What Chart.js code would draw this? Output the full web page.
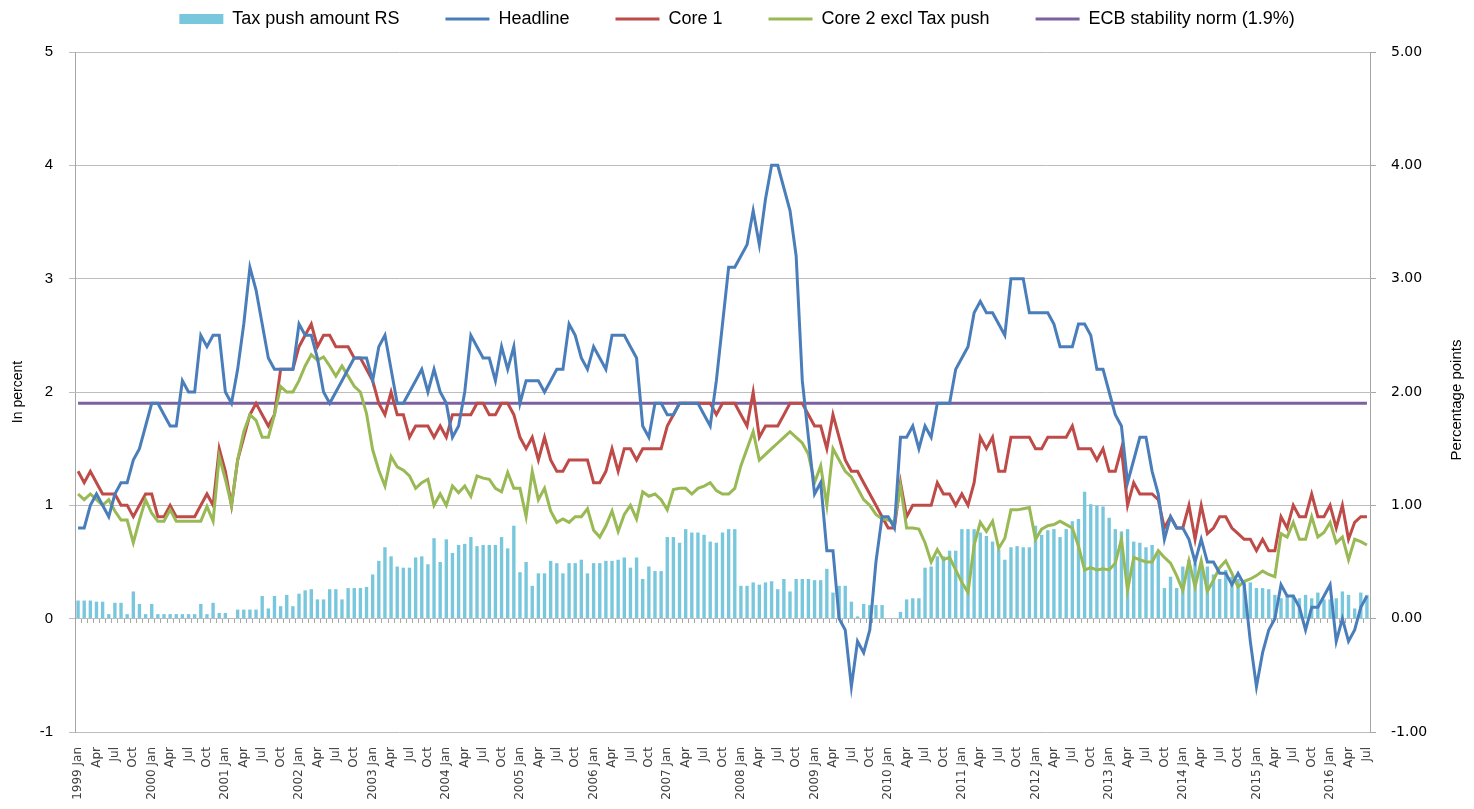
<!DOCTYPE html>
<html>
<head>
<meta charset="utf-8">
<script src="https://cdn.jsdelivr.net/npm/chart.js@4.4.1/dist/chart.umd.min.js"></script>
<style>
html,body{margin:0;padding:0;background:#ffffff;}
#wrap{width:1474px;height:809px;position:relative;}
canvas{display:block;}
</style>
</head>
<body>
<div id="wrap"><canvas id="chart" width="1474" height="809"></canvas></div>
<script>
// ---------- DATA ----------
const years = [1999,2000,2001,2002,2003,2004,2005,2006,2007,2008,2009,2010,2011,2012,2013,2014,2015,2016];
const monthNames = ['Jan','Feb','Mar','Apr','May','Jun','Jul','Aug','Sep','Oct','Nov','Dec'];
const lastMonthOf2016 = 7; // data ends July 2016

const categories = [];
years.forEach(y => {
  const n = (y === 2016) ? lastMonthOf2016 : 12;
  for (let m = 0; m < n; m++) categories.push(m === 0 ? y + ' ' + monthNames[m] : monthNames[m]);
});

const taxPush = [
  0.16,0.16,0.16,0.15,0.15,0.04,0.14,0.14,0.04,0.24,0.13,0.04,
  0.13,0.04,0.04,0.04,0.04,0.04,0.04,0.04,0.13,0.04,0.14,0.05,
  0.05,0.00,0.08,0.08,0.08,0.08,0.20,0.09,0.20,0.11,0.21,0.11,
  0.22,0.25,0.26,0.17,0.17,0.26,0.26,0.17,0.27,0.27,0.27,0.28,
  0.39,0.51,0.63,0.55,0.46,0.45,0.45,0.54,0.55,0.48,0.71,0.50,
  0.70,0.58,0.65,0.66,0.72,0.64,0.65,0.65,0.65,0.72,0.62,0.82,
  0.41,0.50,0.29,0.40,0.40,0.51,0.49,0.40,0.49,0.49,0.52,0.40,
  0.49,0.49,0.51,0.51,0.52,0.54,0.45,0.54,0.35,0.46,0.42,0.42,
  0.72,0.72,0.67,0.79,0.76,0.76,0.74,0.68,0.67,0.76,0.79,0.79,
  0.29,0.29,0.32,0.30,0.32,0.33,0.26,0.35,0.24,0.35,0.35,0.35,
  0.34,0.34,0.44,0.23,0.29,0.29,0.15,0.02,0.13,0.12,0.12,0.12,
  0.00,0.00,0.06,0.17,0.18,0.18,0.45,0.46,0.55,0.55,0.60,0.60,
  0.79,0.79,0.79,0.76,0.73,0.68,0.61,0.52,0.63,0.64,0.63,0.63,
  0.82,0.74,0.78,0.79,0.72,0.79,0.86,0.88,1.12,1.01,1.00,0.99,
  0.89,0.79,0.77,0.79,0.68,0.67,0.63,0.65,0.57,0.27,0.37,0.27,
  0.46,0.52,0.49,0.48,0.46,0.39,0.35,0.43,0.37,0.35,0.33,0.32,
  0.27,0.27,0.26,0.21,0.18,0.20,0.21,0.18,0.21,0.18,0.23,0.17,
  0.17,0.18,0.24,0.21,0.09,0.23,0.21
];

const headline = [
  0.8,0.8,1.0,1.1,1.0,0.9,1.1,1.2,1.2,1.4,1.5,1.7,
  1.9,1.9,1.8,1.7,1.7,2.1,2.0,2.0,2.5,2.4,2.5,2.5,
  2.0,1.9,2.2,2.6,3.1,2.9,2.6,2.3,2.2,2.2,2.2,2.2,
  2.6,2.5,2.5,2.3,2.0,1.9,2.0,2.1,2.2,2.3,2.3,2.3,
  2.1,2.4,2.5,2.2,1.9,1.9,2.0,2.1,2.2,2.0,2.2,2.0,
  1.9,1.6,1.7,2.0,2.5,2.4,2.3,2.3,2.1,2.4,2.2,2.4,
  1.9,2.1,2.1,2.1,2.0,2.1,2.2,2.2,2.6,2.5,2.3,2.2,
  2.4,2.3,2.2,2.5,2.5,2.5,2.4,2.3,1.7,1.6,1.9,1.9,
  1.8,1.8,1.9,1.9,1.9,1.9,1.8,1.7,2.1,2.6,3.1,3.1,
  3.2,3.3,3.6,3.3,3.7,4.0,4.0,3.8,3.6,3.2,2.1,1.6,
  1.1,1.2,0.6,0.6,0.0,-0.1,-0.6,-0.2,-0.3,-0.1,0.5,0.9,
  0.9,0.8,1.6,1.6,1.7,1.5,1.7,1.6,1.9,1.9,1.9,2.2,
  2.3,2.4,2.7,2.8,2.7,2.7,2.6,2.5,3.0,3.0,3.0,2.7,
  2.7,2.7,2.7,2.6,2.4,2.4,2.4,2.6,2.6,2.5,2.2,2.2,
  2.0,1.8,1.7,1.2,1.4,1.6,1.6,1.3,1.1,0.7,0.9,0.8,
  0.8,0.7,0.5,0.7,0.5,0.5,0.4,0.4,0.3,0.4,0.3,-0.2,
  -0.6,-0.3,-0.1,0.0,0.3,0.2,0.2,0.1,-0.1,0.1,0.1,0.2,
  0.3,-0.2,0.0,-0.2,-0.1,0.1,0.2
];

const core1 = [
  1.3,1.2,1.3,1.2,1.1,1.1,1.1,1.0,1.0,0.9,1.0,1.1,
  1.1,0.9,0.9,1.0,0.9,0.9,0.9,0.9,1.0,1.1,1.0,1.5,
  1.3,1.0,1.4,1.6,1.8,1.9,1.8,1.7,1.8,2.2,2.2,2.2,
  2.4,2.5,2.6,2.4,2.5,2.5,2.4,2.4,2.4,2.3,2.3,2.2,
  2.1,1.9,1.8,2.0,1.8,1.8,1.6,1.7,1.7,1.7,1.6,1.7,
  1.6,1.8,1.8,1.8,1.8,1.9,1.9,1.8,1.8,1.9,1.9,1.8,
  1.6,1.5,1.6,1.4,1.6,1.4,1.3,1.3,1.4,1.4,1.4,1.4,
  1.2,1.2,1.3,1.5,1.3,1.5,1.5,1.4,1.5,1.5,1.5,1.5,
  1.7,1.8,1.9,1.9,1.9,1.9,1.9,1.9,1.8,1.9,1.9,1.9,
  1.8,1.7,2.0,1.6,1.7,1.7,1.7,1.8,1.9,1.9,1.9,1.8,
  1.7,1.7,1.5,1.8,1.6,1.4,1.3,1.3,1.2,1.1,1.0,0.9,
  0.8,0.8,1.2,0.9,1.0,1.0,1.0,1.0,1.2,1.1,1.1,1.0,
  1.1,1.0,1.2,1.6,1.5,1.6,1.3,1.3,1.6,1.6,1.6,1.6,
  1.5,1.5,1.6,1.6,1.6,1.6,1.7,1.5,1.5,1.5,1.4,1.5,
  1.3,1.3,1.5,1.0,1.2,1.1,1.1,1.1,1.05,0.8,0.9,0.8,
  0.8,1.0,0.7,1.0,0.75,0.8,0.9,0.9,0.8,0.75,0.7,0.7,
  0.6,0.7,0.6,0.6,0.9,0.8,1.0,0.9,0.9,1.1,0.9,0.9,
  1.0,0.8,1.0,0.7,0.85,0.9,0.9
];

const core2 = [
  1.1,1.05,1.1,1.05,1.0,1.05,0.95,0.87,0.87,0.67,0.87,1.05,
  0.93,0.86,0.86,0.96,0.86,0.86,0.86,0.86,0.86,0.99,0.86,1.43,
  1.23,1.0,1.4,1.65,1.8,1.75,1.6,1.6,1.8,2.05,2.0,2.0,
  2.1,2.23,2.33,2.28,2.31,2.23,2.14,2.23,2.14,2.05,2.0,1.81,
  1.49,1.31,1.17,1.43,1.34,1.31,1.26,1.15,1.2,1.23,1.0,1.1,
  1.0,1.17,1.11,1.17,1.08,1.26,1.24,1.23,1.15,1.12,1.29,1.15,
  1.15,0.9,1.3,1.05,1.15,0.95,0.85,0.88,0.85,0.9,0.9,0.97,
  0.78,0.72,0.82,0.95,0.77,0.92,1.0,0.88,1.12,1.08,1.1,1.05,
  0.96,1.14,1.15,1.15,1.1,1.15,1.17,1.2,1.13,1.1,1.1,1.15,
  1.35,1.5,1.65,1.4,1.45,1.5,1.55,1.6,1.65,1.6,1.55,1.45,
  1.2,1.35,1.0,1.5,1.4,1.3,1.25,1.15,1.05,1.0,0.92,0.88,
  0.87,0.85,1.17,0.8,0.8,0.79,0.67,0.5,0.61,0.52,0.54,0.43,
  0.32,0.23,0.65,0.85,0.77,0.86,0.62,0.71,0.96,0.96,0.97,0.98,
  0.7,0.79,0.82,0.83,0.86,0.83,0.8,0.64,0.43,0.45,0.43,0.44,
  0.43,0.49,0.7,0.25,0.54,0.52,0.5,0.5,0.6,0.54,0.49,0.38,
  0.25,0.51,0.28,0.51,0.24,0.34,0.45,0.51,0.4,0.28,0.33,0.35,
  0.38,0.42,0.39,0.37,0.75,0.72,0.85,0.7,0.7,0.9,0.72,0.76,
  0.85,0.67,0.72,0.52,0.7,0.68,0.65
];

const ECB_NORM = 1.9;
const ecbNorm = categories.map(() => ECB_NORM);

const yTicksLeft = { min: -1, max: 5, step: 1 };

// ---------- CHART ----------
Chart.defaults.font.family = "'Liberation Sans', Arial, sans-serif";
Chart.defaults.color = '#000000';

const legendSpacer = {
  id: 'legendSpacer',
  beforeInit(chart) {
    const origFit = chart.legend.fit;
    chart.legend.fit = function () {
      origFit.call(this);
      this.height += 14;
    };
  }
};

const rightTitle = {
  id: 'rightTitle',
  afterDraw(chart) {
    const ctx = chart.ctx;
    const a = chart.chartArea;
    ctx.save();
    ctx.translate(1457, (a.top + a.bottom) / 2 + 8);
    ctx.rotate(-Math.PI / 2);
    ctx.textAlign = 'center';
    ctx.textBaseline = 'middle';
    ctx.fillStyle = '#000000';
    ctx.font = "15px 'Liberation Sans', Arial, sans-serif";
    ctx.fillText('Percentage points', 0, 0);
    ctx.restore();
  }
};

new Chart(document.getElementById('chart'), {
  type: 'bar',
  data: {
    labels: categories,
    datasets: [
      { type: 'bar', label: 'Tax push amount RS', data: taxPush, xAxisID: 'x', yAxisID: 'y2',
        backgroundColor: '#78c7dd', borderWidth: 0, barPercentage: 0.55, categoryPercentage: 1.0,
        pointStyle: 'rect', order: 5 },
      { type: 'line', label: 'Headline', data: headline, xAxisID: 'x', yAxisID: 'y',
        borderColor: '#4a7ebb', backgroundColor: '#4a7ebb', borderWidth: 3, pointRadius: 0,
        tension: 0, fill: false, pointStyle: 'line', order: 1 },
      { type: 'line', label: 'Core 1', data: core1, xAxisID: 'x', yAxisID: 'y',
        borderColor: '#be4b48', backgroundColor: '#be4b48', borderWidth: 3, pointRadius: 0,
        tension: 0, fill: false, pointStyle: 'line', order: 3 },
      { type: 'line', label: 'Core 2 excl Tax push', data: core2, xAxisID: 'x', yAxisID: 'y',
        borderColor: '#98b954', backgroundColor: '#98b954', borderWidth: 3, pointRadius: 0,
        tension: 0, fill: false, pointStyle: 'line', order: 2 },
      { type: 'line', label: 'ECB stability norm (1.9%)', data: ecbNorm, xAxisID: 'x', yAxisID: 'y',
        borderColor: '#7d60a0', backgroundColor: '#7d60a0', borderWidth: 3, pointRadius: 0,
        tension: 0, fill: false, pointStyle: 'line', order: 4 }
    ]
  },
  options: {
    responsive: false,
    animation: false,
    events: [],
    layout: { padding: { top: -36, left: 0, right: 0, bottom: 0 } },
    plugins: {
      tooltip: { enabled: false },
      legend: {
        position: 'top',
        align: 'center',
        labels: {
          usePointStyle: true,
          pointStyleWidth: 44,
          boxHeight: 10,
          padding: 46,
          color: '#000000',
          font: { size: 18 },
          sort: (a, b) => a.datasetIndex - b.datasetIndex
        }
      }
    },
    scales: {
      x: {
        type: 'category',
        offset: true,
        grid: { display: false },
        border: { display: false },
        ticks: {
          autoSkip: false,
          minRotation: 90,
          maxRotation: 90,
          padding: 7,
          color: '#404040',
          font: { family: "'DejaVu Sans', Verdana, sans-serif", size: 12 },
          callback: function (value, index) { return index % 3 === 0 ? categories[index] : ''; }
        },
        afterFit: (s) => { s.height = 77; }
      },
      xZero: {
        type: 'category',
        axis: 'x',
        position: { y: 0 },
        offset: true,
        labels: categories,
        grid: { display: true, offset: true, drawOnChartArea: false, drawTicks: true, tickLength: 4, color: '#a8a8a8' },
        border: { display: false },
        ticks: { display: false, autoSkip: false }
      },
      y: {
        position: 'left',
        min: yTicksLeft.min, max: yTicksLeft.max,
        ticks: { stepSize: yTicksLeft.step, padding: 16, color: '#000000', font: { size: 15 } },
        grid: { color: '#bdbdbd', lineWidth: 1, tickLength: 6, drawTicks: true },
        border: { display: true, color: '#a6a6a6' },
        title: { display: true, text: 'In percent', color: '#000000', font: { size: 14 }, padding: { top: 10, bottom: 0 } },
        afterFit: (s) => { s.width = 75; }
      },
      y2: {
        position: 'right',
        min: yTicksLeft.min, max: yTicksLeft.max,
        ticks: { stepSize: yTicksLeft.step, padding: 15, color: '#000000',
                 font: { family: "'DejaVu Sans', Verdana, sans-serif", size: 14 },
                 callback: (v) => Number(v).toFixed(2) },
        grid: { drawOnChartArea: false, color: '#a6a6a6', tickLength: 6, drawTicks: true },
        border: { display: true, color: '#a6a6a6' },
        afterFit: (s) => { s.width = 104; }
      }
    }
  },
  plugins: [legendSpacer, rightTitle]
});
</script>
</body>
</html>
